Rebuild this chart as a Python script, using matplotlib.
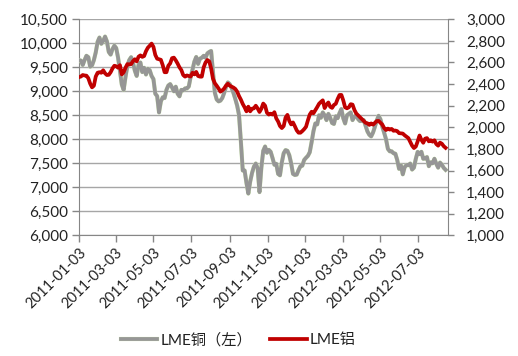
import matplotlib
matplotlib.use("Agg")
import matplotlib.pyplot as plt
import matplotlib.dates as mdates
import matplotlib.patheffects as pe
from matplotlib.ticker import FuncFormatter, MultipleLocator
import pandas as pd

plt.rcParams['font.family'] = ['Lato', 'Noto Sans CJK SC', 'DejaVu Sans']

start_date = "2011-01-03"
step = "3D"

copper = [
    9650, 9640, 9548, 9650, 9740, 9710, 9513, 9540, 9650, 9810,
    10030, 10120, 9990, 10050, 10140, 10040, 9820, 9765, 9880, 9950,
    9900, 9700, 9430, 9140, 9030, 9300, 9530, 9650, 9710, 9600,
    9430, 9320, 9550, 9600, 9400, 9490, 9350, 9470, 9440, 9320,
    9255, 8950, 8900, 8560, 8790, 8875, 8860, 9030, 9120, 9150,
    9080, 9000, 9096, 8950, 8895, 9030, 9020, 9060, 9060, 9100,
    9300, 9450, 9618, 9715, 9570, 9680, 9700, 9740, 9700, 9790,
    9820, 9840, 9400, 8970, 8830, 8790, 8805, 8860, 8965, 9090,
    9185, 9150, 9070, 8965, 8840, 8700, 8506, 7950, 7350, 7350,
    7090, 6870, 7120, 7300, 7430, 7495, 7396, 6900, 7410, 7760,
    7850, 7720, 7780, 7740, 7610, 7470, 7490, 7280, 7250, 7520,
    7710, 7775, 7760, 7670, 7500, 7280, 7257, 7265, 7360, 7440,
    7450, 7570, 7615, 7655, 7730, 7940, 8170, 8330, 8310, 8500,
    8450, 8560, 8500, 8400, 8530, 8450, 8340, 8320, 8480, 8440,
    8545, 8630, 8440, 8330, 8500, 8530, 8560, 8400, 8470, 8500,
    8420, 8380, 8385, 8400, 8280, 8165, 8095, 8060, 8140, 8260,
    8390, 8490, 8415, 8260, 8135, 8000, 7800, 7750, 7750, 7710,
    7700, 7570, 7385, 7460, 7270, 7420, 7465, 7460, 7495, 7370,
    7410, 7595, 7738, 7690, 7740, 7595, 7600, 7630, 7440, 7520,
    7500, 7595, 7490, 7410, 7515, 7470, 7405, 7365,
]

aluminium = [
    2465, 2470, 2484, 2480, 2478, 2455, 2405, 2370, 2385, 2470,
    2505, 2510, 2505, 2528, 2500, 2484, 2486, 2510, 2545, 2570,
    2565, 2552, 2575, 2490, 2510, 2552, 2585, 2582, 2585, 2612,
    2630, 2610, 2654, 2666, 2652, 2660, 2705, 2737, 2755, 2775,
    2745, 2670, 2635, 2630, 2625, 2575, 2510, 2510, 2570, 2592,
    2640, 2645, 2620, 2590, 2555, 2530, 2484, 2469, 2480, 2475,
    2470, 2505, 2490, 2513, 2475, 2469, 2469, 2555, 2600, 2623,
    2610, 2545, 2450, 2408, 2385, 2360, 2330, 2342, 2359, 2386,
    2403, 2386, 2376, 2368, 2355, 2330, 2289, 2256, 2216, 2185,
    2148, 2191, 2148, 2172, 2176, 2200, 2175, 2142, 2172, 2220,
    2200, 2135, 2118, 2126, 2118, 2140, 2083, 2054, 2012, 1993,
    2012, 2090, 2115, 2060, 2027, 2045, 2010, 1972, 1950, 1950,
    1965, 1983, 2005, 2064, 2118, 2144, 2130, 2158, 2187, 2218,
    2235, 2250, 2178, 2210, 2230, 2190, 2180, 2207, 2218, 2263,
    2299, 2300, 2250, 2185, 2176, 2185, 2214, 2210, 2161, 2128,
    2111, 2094, 2076, 2059, 2042, 2037, 2022, 2036, 2024, 2041,
    2058, 2059, 2042, 2025, 1993, 1975, 1988, 1979, 1985, 1968,
    1970, 1965, 1946, 1944, 1942, 1926, 1913, 1900, 1864, 1830,
    1808, 1822, 1870, 1924, 1884, 1857, 1895, 1900, 1870, 1880,
    1867, 1880, 1845, 1830, 1858, 1848, 1825, 1810,
]

tick_dates = ["2011-01-03", "2011-03-03", "2011-05-03", "2011-07-03",
              "2011-09-03", "2011-11-03", "2012-01-03", "2012-03-03",
              "2012-05-03", "2012-07-03"]
x_end = "2012-08-20"

label_cu = "LME铜（左）"
label_al = "LME铝"

# ---- figure ----
dates = pd.date_range(start_date, periods=len(copper), freq=step)

fig = plt.figure(figsize=(5.18, 3.56), dpi=100)
ax = fig.add_axes([0.1525, 0.339, 0.7125, 0.6068])
ax2 = ax.twinx()

gray = "#969696"
red = "#c00000"
axis_col = "#868686"

l1, = ax.plot(dates, copper, color=gray, lw=2.7, solid_joinstyle="round",
              path_effects=[pe.Stroke(linewidth=3.0, foreground="#cfeab0"), pe.Normal()],
              zorder=3, label=label_cu)
l2, = ax2.plot(dates, aluminium, color=red, lw=2.7, solid_joinstyle="round",
               zorder=3, label=label_al)

ax.set_ylim(6000, 10500)
ax2.set_ylim(1000, 3000)
ax.yaxis.set_major_locator(MultipleLocator(500))
ax2.yaxis.set_major_locator(MultipleLocator(200))
fmt = FuncFormatter(lambda v, p: f"{v:,.0f}")
ax.yaxis.set_major_formatter(fmt)
ax2.yaxis.set_major_formatter(fmt)

ax.set_xlim(pd.Timestamp(start_date), pd.Timestamp(x_end))
ax.set_xticks(pd.to_datetime(tick_dates))
ax.xaxis.set_major_formatter(mdates.DateFormatter("%Y-%m-%d"))

ax.grid(axis="y", color="#a6a6a6", lw=1.0, zorder=0)
ax.set_axisbelow(True)

for a in (ax, ax2):
    a.spines["top"].set_visible(False)
    a.spines["left"].set_color(axis_col)
    a.spines["right"].set_color(axis_col)
    a.spines["bottom"].set_color(axis_col)
ax.spines["right"].set_visible(False)
ax2.spines["left"].set_visible(False)
ax2.spines["bottom"].set_visible(False)

ax.tick_params(axis="y", direction="out", length=5, width=1, color=axis_col,
               labelsize=11, labelcolor="#222222", pad=3)
ax2.tick_params(axis="y", direction="out", length=4, width=1, color=axis_col,
                labelsize=11, labelcolor="#222222", pad=9)
ax.tick_params(axis="x", direction="out", length=5, width=1, color=axis_col,
               labelsize=10.5, labelcolor="#222222", pad=2)
for lab in ax.get_xticklabels():
    lab.set_rotation(45)
    lab.set_ha("right")
    lab.set_va("top")
    lab.set_rotation_mode("anchor")

fig.legend(handles=[l1, l2], labels=[label_cu, label_al], loc="center",
           bbox_to_anchor=(0.46, 0.045), ncol=2, frameon=False, fontsize=11,
           handlelength=2.4, handletextpad=0.2, columnspacing=1.2,
           labelcolor="#222222")

fig.savefig("out.png", dpi=100)
